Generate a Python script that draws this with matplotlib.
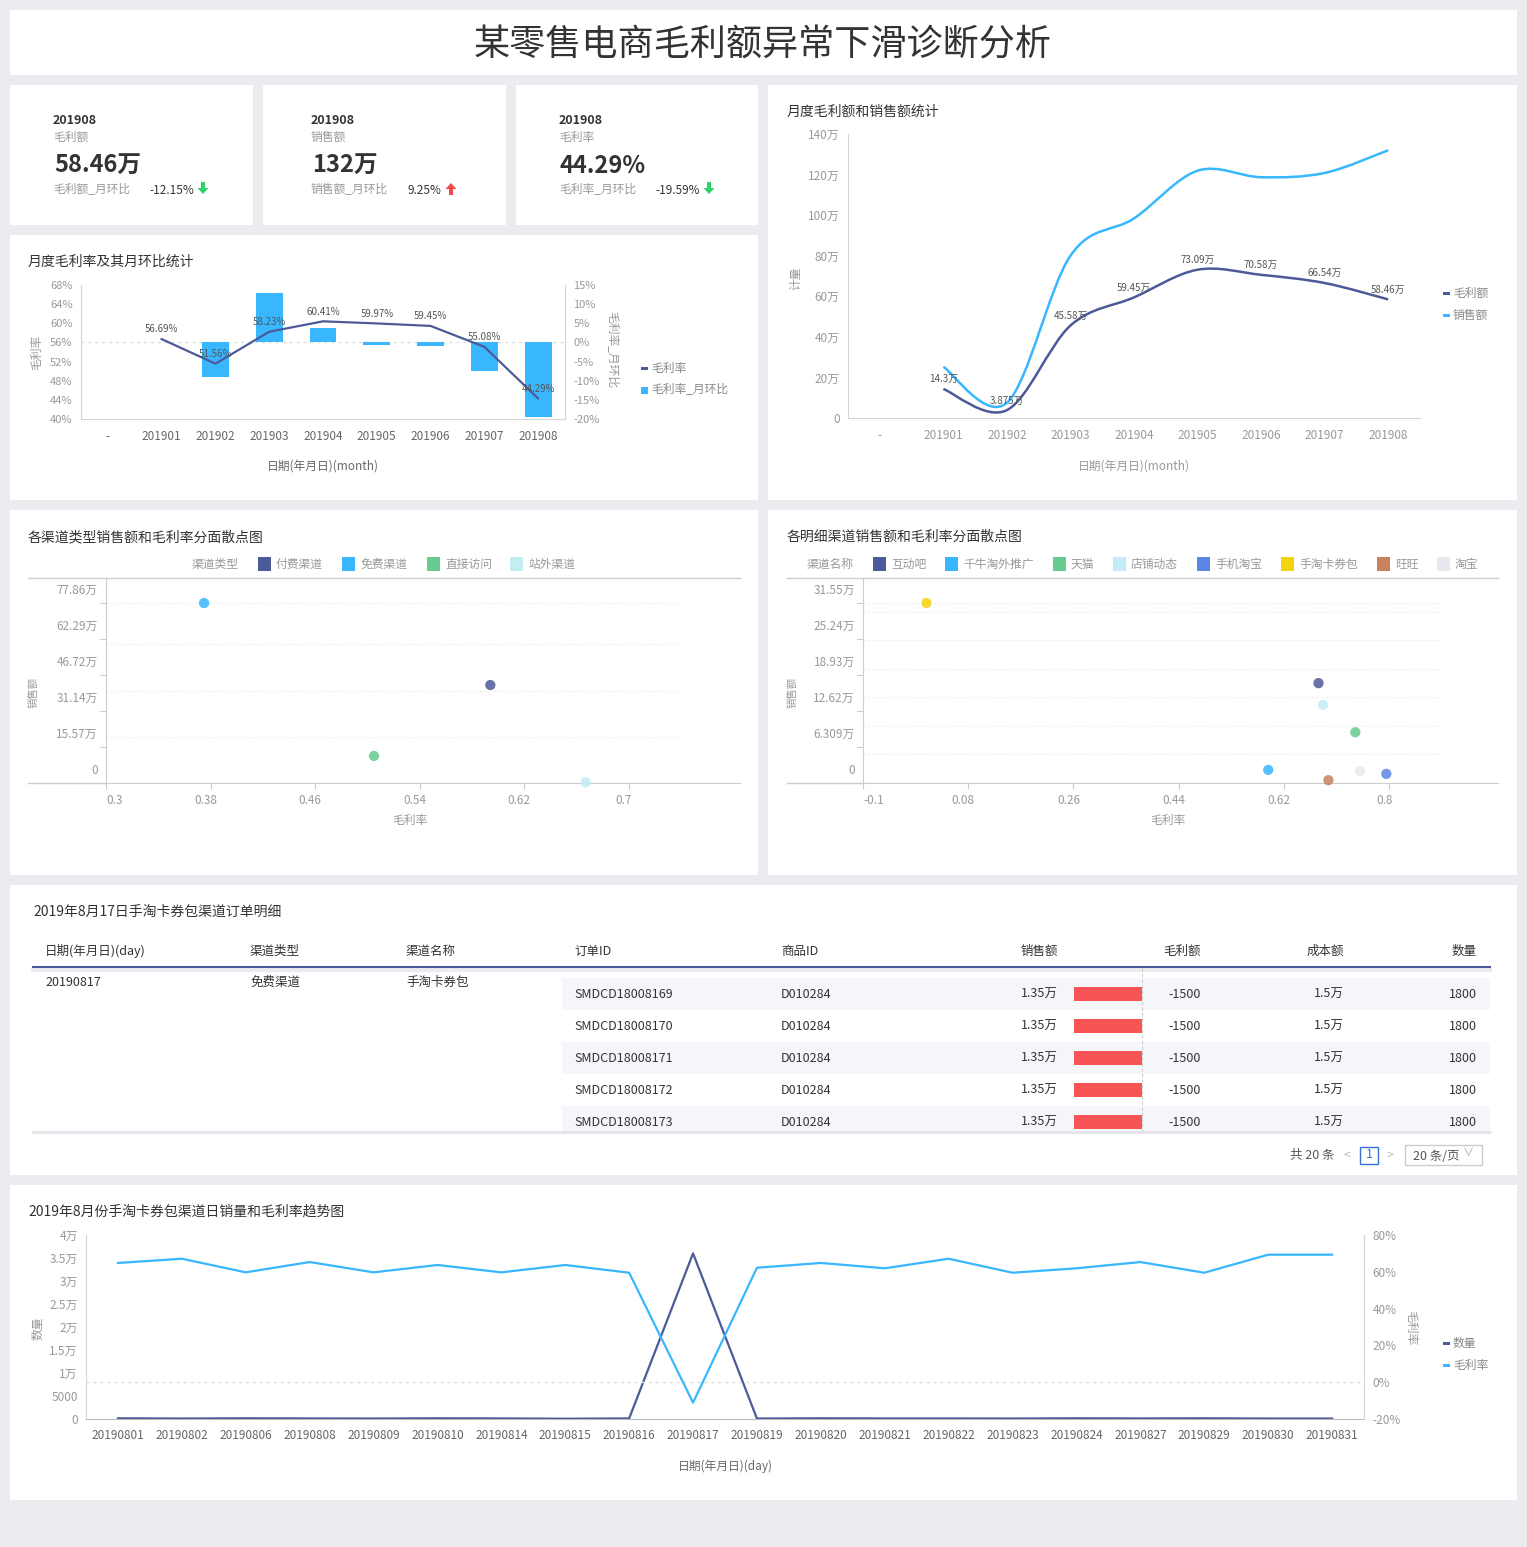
import numpy as np
import matplotlib.pyplot as plt
import matplotlib.transforms as mtransforms
from matplotlib.patches import Rectangle, PathPatch, Polygon
from matplotlib.path import Path
from matplotlib.lines import Line2D

plt.rcParams['font.family'] = ['Noto Sans CJK SC', 'DejaVu Sans']

# ---------------- data ----------------
kpi_month = ['201908', '201908', '201908']
kpi_name = ['毛利额', '销售额', '毛利率']
kpi_value = ['58.46万', '132万', '44.29%']
kpi_mom_name = ['毛利额_月环比', '销售额_月环比', '毛利率_月环比']
kpi_mom = ['-12.15%', '9.25%', '-19.59%']
kpi_up = [False, True, False]

months = ['-', '201901', '201902', '201903', '201904', '201905', '201906', '201907', '201908']
rate = [None, 56.69, 51.56, 58.23, 60.41, 59.97, 59.45, 55.08, 44.29]
rate_mom = [None, None, -9.05, 12.94, 3.74, -0.73, -0.87, -7.35, -19.59]

profit = [None, 14.3, 3.875, 45.58, 59.45, 73.09, 70.58, 66.54, 58.46]
profit_lbl = [None, '14.3万', '3.875万', '45.58万', '59.45万', '73.09万', '70.58万', '66.54万', '58.46万']
sales = [None, 25.2, 7.5, 80.0, 98.4, 121.9, 118.7, 120.8, 132.0]

type_names = ['付费渠道', '免费渠道', '直接访问', '站外渠道']
type_rate = [0.594, 0.375, 0.505, 0.667]
type_sales = [42.4, 77.86, 11.7, 0.3]
type_colors = ['#4d5a98', '#38b7ff', '#66cc8f', '#c3ecf3']
type_yticks = [0, 15.57, 31.14, 46.72, 62.29, 77.86]
type_xticks = [0.3, 0.38, 0.46, 0.54, 0.62, 0.7]

ch_names = ['互动吧', '千牛淘外推广', '天猫', '店铺动态', '手机淘宝', '手淘卡券包', '旺旺', '淘宝']
ch_rate = [0.679, 0.593, 0.742, 0.687, 0.795, 0.0085, 0.696, 0.750]
ch_sales = [17.5, 2.3, 8.9, 13.7, 1.6, 31.55, 0.5, 2.1]
ch_colors = ['#4d5a98', '#38b7ff', '#66cc8f', '#c3ecf3', '#5b86e5', '#f5d40f', '#c8825f', '#e8e8f0']
ch_yticks = [0, 6.309, 12.62, 18.93, 25.24, 31.55]
ch_xticks = [-0.1, 0.08, 0.26, 0.44, 0.62, 0.8]

tbl_header = ['日期(年月日)(day)', '渠道类型', '渠道名称', '订单ID', '商品ID', '销售额', '毛利额', '成本额', '数量']
tbl_day = '20190817'
tbl_type = '免费渠道'
tbl_channel = '手淘卡券包'
tbl_order = ['SMDCD18008169', 'SMDCD18008170', 'SMDCD18008171', 'SMDCD18008172', 'SMDCD18008173']
tbl_goods = ['D010284', 'D010284', 'D010284', 'D010284', 'D010284']
tbl_sales = ['1.35万', '1.35万', '1.35万', '1.35万', '1.35万']
tbl_profit = [-1500, -1500, -1500, -1500, -1500]
tbl_cost = ['1.5万', '1.5万', '1.5万', '1.5万', '1.5万']
tbl_qty = [1800, 1800, 1800, 1800, 1800]

days = ['20190801', '20190802', '20190806', '20190808', '20190809', '20190810', '20190814',
        '20190815', '20190816', '20190817', '20190819', '20190820', '20190821', '20190822',
        '20190823', '20190824', '20190827', '20190829', '20190830', '20190831']
day_qty = [150, 100, 150, 120, 100, 150, 120, 60, 120, 36000, 100, 150, 120, 120, 100, 150, 120, 150, 100, 100]
day_rate = [64.8, 67.1, 59.7, 65.3, 59.7, 63.7, 59.7, 63.7, 59.5, -11.1, 62.2, 64.8, 61.9, 67.1,
            59.5, 61.9, 65.3, 59.5, 69.3, 69.3]

# ---------------- helpers ----------------
W, H = 1527, 1547
fig = plt.figure(figsize=(W / 100, H / 100), dpi=100)
fig.patch.set_facecolor('#ebebf0')

DARK = '#4d5a98'
BLUE = '#38b7ff'
TXT = '#333333'
GRY = '#999999'
AX = '#d5d5d5'


def fx(x):
    return x / W


def fy(y):
    return 1 - y / H


def rect(x0, y0, x1, y1, fc='white', ec='none', lw=0, z=-10):
    fig.add_artist(Rectangle((fx(x0), fy(y1)), (x1 - x0) / W, (y1 - y0) / H,
                             transform=fig.transFigure, fc=fc, ec=ec, lw=lw, zorder=z))


def txt(x, y, s, size=9, color=TXT, ha='left', va='center', **kw):
    fig.text(fx(x), fy(y), s, fontsize=size, color=color, ha=ha, va=va, **kw)


def hline(x0, x1, y, color=AX, lw=1, ls='-', z=1):
    fig.add_artist(Line2D([fx(x0), fx(x1)], [fy(y), fy(y)], transform=fig.transFigure,
                          color=color, lw=lw, ls=ls, zorder=z))


def vline(x, y0, y1, color=AX, lw=1, ls='-', z=1):
    fig.add_artist(Line2D([fx(x), fx(x)], [fy(y0), fy(y1)], transform=fig.transFigure,
                          color=color, lw=lw, ls=ls, zorder=z))


def axes_px(x0, y0, x1, y1):
    ax = fig.add_axes([fx(x0), fy(y1), (x1 - x0) / W, (y1 - y0) / H])
    ax.patch.set_visible(False)
    return ax


def arrow(cx, ytop, color, up):
    if up:
        pts = [(cx, ytop), (cx + 5.5, ytop + 6), (cx + 2, ytop + 6), (cx + 2, ytop + 12),
               (cx - 2, ytop + 12), (cx - 2, ytop + 6), (cx - 5.5, ytop + 6)]
    else:
        pts = [(cx, ytop + 12), (cx + 5.5, ytop + 6), (cx + 2, ytop + 6), (cx + 2, ytop),
               (cx - 2, ytop), (cx - 2, ytop + 6), (cx - 5.5, ytop + 6)]
    fig.add_artist(Polygon([(fx(a), fy(b)) for a, b in pts], closed=True,
                           transform=fig.transFigure, fc=color, ec='none'))


def legend_item(x, y, color, label, kind='line', size=8.5):
    if kind == 'line':
        rect(x, y - 1.5, x + 7, y + 1.5, fc=color, z=2)
    else:
        rect(x, y - 3.5, x + 7, y + 3.5, fc=color, z=2)
    txt(x + 10, y, label, size=size, color='#888888')


def smooth_path(xs, ys):
    pts = np.column_stack([xs, ys]).astype(float)
    n = len(pts)
    verts = [pts[0]]
    codes = [Path.MOVETO]
    for i in range(n - 1):
        p0 = pts[i - 1] if i > 0 else pts[i]
        p1 = pts[i]
        p2 = pts[i + 1]
        p3 = pts[i + 2] if i + 2 < n else pts[i + 1]
        verts += [p1 + (p2 - p0) / 6, p2 - (p3 - p1) / 6, p2]
        codes += [Path.CURVE4] * 3
    return Path(verts, codes)


def style_spines(ax, show=('left', 'bottom'), color=AX):
    for k, s in ax.spines.items():
        s.set_visible(k in show)
        s.set_color(color)


# ---------------- panels ----------------
rect(10, 10, 1517, 75)
rect(10, 85, 253, 225)
rect(263, 85, 506, 225)
rect(516, 85, 758, 225)
rect(10, 235, 758, 500)
rect(768, 85, 1517, 500)
rect(10, 510, 758, 875)
rect(768, 510, 1517, 875)
rect(10, 885, 1517, 1175)
rect(10, 1185, 1517, 1500)

txt(763, 46, '某零售电商毛利额异常下滑诊断分析', size=26, ha='center')

# ---------------- KPI cards ----------------
card_x = [53, 311, 559]
mom_x = [149, 407, 655]
arrow_x = [203, 451, 709]
for i in range(3):
    txt(card_x[i], 120, kpi_month[i], size=9, weight='bold')
    txt(card_x[i], 137, kpi_name[i], size=8.5, color=GRY)
    txt(card_x[i] + 1, 166, kpi_value[i], size=17, weight='bold')
    txt(card_x[i], 190, kpi_mom_name[i], size=8.5, color=GRY)
    txt(mom_x[i], 190, kpi_mom[i], size=8.5)
    if kpi_up[i]:
        arrow(arrow_x[i], 183, '#f24a4a', True)
    else:
        arrow(arrow_x[i], 182, '#2fd36b', False)

# ---------------- chart 1: rate + mom ----------------
txt(28, 262, '月度毛利率及其月环比统计', size=10)
xi = np.arange(len(months))
ax1 = axes_px(81, 285, 565, 419)
ax1b = ax1.twinx()
ax1b.set_zorder(ax1.get_zorder() - 1)
ax1.patch.set_visible(False)
ax1b.axhline(0, color='#dddddd', lw=1, ls=(0, (2, 3)), zorder=0)
bx = [i for i in xi if rate_mom[i] is not None]
ax1b.bar(bx, [rate_mom[i] for i in bx], width=0.5, color=BLUE, zorder=2)
ax1b.set_ylim(-20, 15)
ax1b.set_yticks(range(-20, 16, 5))
ax1b.set_yticklabels([f'{v}%' for v in range(-20, 16, 5)])
lx = [i for i in xi if rate[i] is not None]
ly = [rate[i] for i in lx]
ax1.plot(lx, ly, color=DARK, lw=1.6, zorder=5)
for x, y in zip(lx, ly):
    ax1.annotate(f'{y:.2f}%', (x, y), xytext=(0, 7), textcoords='offset points',
                 ha='center', va='center', fontsize=7, color='#555555', zorder=6)
ax1.set_xlim(-0.5, 8.5)
ax1.set_ylim(40, 68)
ax1.set_yticks(range(40, 69, 4))
ax1.set_yticklabels([f'{v}%' for v in range(40, 69, 4)])
ax1.set_xticks(xi)
ax1.set_xticklabels(months)
style_spines(ax1, ('left', 'bottom'))
style_spines(ax1b, ('right',))
ax1.tick_params(axis='y', length=0, labelsize=8, labelcolor=GRY, pad=6)
ax1.tick_params(axis='x', length=0, labelsize=8.5, labelcolor='#666666', pad=8)
ax1b.tick_params(axis='y', length=0, labelsize=8, labelcolor=GRY, pad=6)
txt(37, 352, '毛利率', size=8.5, color=GRY, ha='center', rotation=90)
txt(612, 350, '毛利率_月环比', size=8.5, color=GRY, ha='center', rotation=270)
txt(323, 466, '日期(年月日)(month)', size=8.5, color='#666666', ha='center')
legend_item(641, 368, DARK, '毛利率', 'line')
legend_item(641, 390, BLUE, '毛利率_月环比', 'square')

# ---------------- chart 2: profit and sales ----------------
txt(787, 112, '月度毛利额和销售额统计', size=10)
ax2 = axes_px(848, 134, 1420, 418)
px = [i for i in xi if profit[i] is not None]
ax2.add_patch(PathPatch(smooth_path(px, [sales[i] for i in px]), fill=False, ec=BLUE, lw=1.8))
ax2.add_patch(PathPatch(smooth_path(px, [profit[i] for i in px]), fill=False, ec=DARK, lw=1.8))
for i in px:
    ax2.annotate(profit_lbl[i], (i, profit[i]), xytext=(0, 7), textcoords='offset points',
                 ha='center', va='center', fontsize=7, color='#555555')
ax2.set_xlim(-0.5, 8.5)
ax2.set_ylim(0, 140)
ax2.set_yticks(range(0, 141, 20))
ax2.set_yticklabels(['0'] + [f'{v}万' for v in range(20, 141, 20)])
ax2.set_xticks(xi)
ax2.set_xticklabels(months)
style_spines(ax2)
ax2.tick_params(axis='y', length=0, labelsize=8.5, labelcolor=GRY, pad=6)
ax2.tick_params(axis='x', length=0, labelsize=8.5, labelcolor=GRY, pad=8)
txt(796, 278, '计量', size=8.5, color=GRY, ha='center', rotation=90)
txt(1134, 466, '日期(年月日)(month)', size=8.5, color=GRY, ha='center')
legend_item(1443, 293, DARK, '毛利额')
legend_item(1443, 315, BLUE, '销售额')


# ---------------- scatter charts ----------------
def scatter_panel(x0, x1, left, xlim, ylim, xs, ys, cols, xticks, yticks, ylabels, grid, gx_end,
                  title, tx, leg_title, leg_names, leg_cols, leg_x, xlab_x):
    txt(tx, 537, title, size=10)
    txt(leg_x[0], 564, leg_title, size=8.5, color=GRY)
    for name, col, lx_ in zip(leg_names, leg_cols, leg_x[1:]):
        rect(lx_, 557, lx_ + 13, 571, fc=col, z=2)
        txt(lx_ + 18, 564, name, size=8.5, color=GRY)
    hline(x0, x1, 578, color='#cccccc')
    hline(x0, left, 783, color='#cccccc')
    ax = axes_px(left, 578, x1, 783)
    for g in grid:
        ax.hlines(g, xlim[0], gx_end, color='#eeeeee', lw=0.8, ls=(0, (2, 2)), zorder=1)
    ax.scatter(xs, ys, s=55, c=cols, alpha=0.85, edgecolors='none', zorder=3, clip_on=False)
    ax.set_xlim(*xlim)
    ax.set_ylim(*ylim)
    ax.set_xticks(xticks)
    ax.set_xticklabels([f'{v:g}' for v in xticks])
    ax.set_yticks(yticks)
    ax.set_yticklabels(ylabels)
    style_spines(ax, ('left', 'bottom'), '#cccccc')
    ax.tick_params(axis='both', length=4, color='#cccccc', labelsize=8.5, labelcolor=GRY)
    ax.tick_params(axis='y', pad=2)
    ax.tick_params(axis='x', pad=4)
    up = mtransforms.ScaledTranslation(0, 0.14, fig.dpi_scale_trans)
    for lab in ax.get_yticklabels():
        lab.set_transform(lab.get_transform() + up)
    lft = mtransforms.ScaledTranslation(-0.05, 0, fig.dpi_scale_trans)
    for k, lab in enumerate(ax.get_xticklabels()):
        if k == 0:
            lab.set_ha('left')
        else:
            lab.set_transform(lab.get_transform() + lft)
    txt(x0 + 5, 692, '销售额', size=7.5, color=GRY, ha='center', rotation=90)
    txt(xlab_x, 820, '毛利率', size=8.5, color=GRY, ha='center')
    return ax


scatter_panel(28, 740, 106, (0.3, 0.785), (0, 88.7), type_rate, type_sales, type_colors,
              type_xticks, type_yticks, ['0', '15.57万', '31.14万', '46.72万', '62.29万', '77.86万'],
              [20, 40, 60, 77.86], 0.74,
              '各渠道类型销售额和毛利率分面散点图', 28, '渠道类型', type_names, type_colors,
              [192, 258, 342, 427, 510], 410)

scatter_panel(787, 1498, 863, (-0.1, 0.986), (0, 35.93), ch_rate, ch_sales, ch_colors,
              ch_xticks, ch_yticks, ['0', '6.309万', '12.62万', '18.93万', '25.24万', '31.55万'],
              [5, 10, 15, 20, 25, 30, 31.55], 0.89,
              '各明细渠道销售额和毛利率分面散点图', 787, '渠道名称', ch_names, ch_colors,
              [807, 873, 945, 1053, 1113, 1197, 1281, 1377, 1437], 1168)

# ---------------- table ----------------
txt(33, 912, '2019年8月17日手淘卡券包渠道订单明细', size=10)
col_x = [45, 250, 406, 574, 781, 1058, 1201, 1344, 1477]
col_ha = ['left'] * 5 + ['right'] * 4
for s, x, ha in zip(tbl_header, col_x, col_ha):
    txt(x, 951, s, size=9, ha=ha)
hline(33, 1490, 970, color='#ececf0', lw=3, z=0)
hline(33, 1490, 967, color=DARK, lw=1.5, z=2)
txt(col_x[0], 982, tbl_day, size=9)
txt(col_x[1], 982, tbl_type, size=9)
txt(col_x[2], 982, tbl_channel, size=9)
bar_right, bar_max = 1142, 68
pmax = max(abs(v) for v in tbl_profit)
for i in range(len(tbl_order)):
    y0 = 978 + 32 * i
    yc = y0 + 16
    if i % 2 == 0:
        rect(562, y0, 1490, min(y0 + 32, 1132), fc='#f5f6fa', z=-5)
    txt(col_x[3], yc, tbl_order[i], size=9)
    txt(col_x[4], yc, tbl_goods[i], size=9)
    txt(col_x[5], yc, tbl_sales[i], size=9, ha='right')
    w = abs(tbl_profit[i]) / pmax * bar_max
    rect(bar_right - w, yc - 7, bar_right, yc + 7, fc='#f75555', z=1)
    txt(col_x[6], yc, str(tbl_profit[i]), size=9, ha='right')
    txt(col_x[7], yc, tbl_cost[i], size=9, ha='right')
    txt(col_x[8], yc, str(tbl_qty[i]), size=9, ha='right')
vline(bar_right, 968, 1132, color='#cccccc', lw=0.8, ls=(0, (3, 2)), z=2)
hline(33, 1490, 1132, color='#e4e4ea', lw=2, z=0)
txt(1290, 1155, '共 20 条', size=9, color='#555555')
txt(1347, 1155, '<', size=9, color='#bbbbbb', ha='center')
rect(1360, 1147, 1378, 1164, fc='white', ec='#3a6fd8', lw=1, z=1)
txt(1369, 1155, '1', size=9, color='#3a6fd8', ha='center')
txt(1390, 1155, '>', size=9, color='#bbbbbb', ha='center')
rect(1405, 1145, 1482, 1165, fc='white', ec='#cccccc', lw=1, z=1)
txt(1413, 1156, '20 条/页', size=9, color='#555555')
txt(1468, 1153, '∨', size=8, color='#aaaaaa', ha='center')

# ---------------- chart 6: daily qty and rate ----------------
txt(28, 1212, '2019年8月份手淘卡券包渠道日销量和毛利率趋势图', size=10)
di = np.arange(len(days))
ax6 = axes_px(86, 1235, 1364, 1419)
ax6b = ax6.twinx()
ax6.plot(di, day_qty, color=DARK, lw=1.6, zorder=3)
ax6b.plot(di, day_rate, color=BLUE, lw=1.6, zorder=3)
ax6b.axhline(0, color='#dddddd', lw=1, ls=(0, (2, 3)), zorder=1)
ax6.set_xlim(-0.5, len(days) - 0.5)
ax6.set_ylim(0, 40000)
ax6.set_yticks(range(0, 40001, 5000))
ax6.set_yticklabels(['0', '5000', '1万', '1.5万', '2万', '2.5万', '3万', '3.5万', '4万'])
ax6b.set_ylim(-20, 80)
ax6b.set_yticks(range(-20, 81, 20))
ax6b.set_yticklabels([f'{v}%' for v in range(-20, 81, 20)])
ax6.set_xticks(di)
ax6.set_xticklabels(days)
style_spines(ax6, ('left', 'bottom'))
style_spines(ax6b, ('right',))
ax6.spines['bottom'].set_color('#bbbbbb')
ax6.tick_params(axis='y', length=0, labelsize=8.5, labelcolor=GRY, pad=6)
ax6.tick_params(axis='x', length=0, labelsize=8.5, labelcolor='#666666', pad=7)
ax6b.tick_params(axis='y', length=0, labelsize=8.5, labelcolor=GRY, pad=6)
txt(38, 1328, '数量', size=8.5, color=GRY, ha='center', rotation=90)
txt(1411, 1328, '毛利率', size=8.5, color=GRY, ha='center', rotation=270)
txt(725, 1466, '日期(年月日)(day)', size=8.5, color='#666666', ha='center')
legend_item(1443, 1343, DARK, '数量')
legend_item(1443, 1365, BLUE, '毛利率')

fig.savefig('out.png', dpi=100, facecolor=fig.get_facecolor())
